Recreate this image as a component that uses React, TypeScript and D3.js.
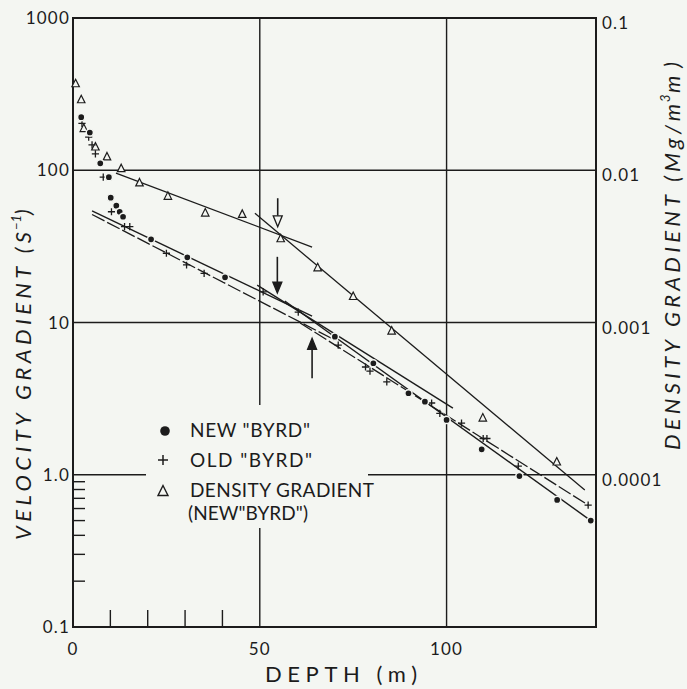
import React from 'react';
import * as d3 from 'd3';

const W = 687;
const H = 689;
const BG = '#f4f6f2';
const INK = '#1c1c1c';
const FONT = 'Lato, "DejaVu Sans", sans-serif';

// ---------- axes ----------
const xMajorTicks = [0, 50, 100];
const xMajorLabels = ['0', '50', '100'];
const xMinorTicks = [10, 20, 30, 40];
const yLeftTicks = [1000, 100, 10, 1, 0.1];
const yLeftLabels = ['1000', '100', '10', '1.0', '0.1'];
const yLeftMinor = [0.2, 0.3, 0.4, 0.5, 0.6, 0.7, 0.8, 0.9];
const yRightTicks = [0.1, 0.01, 0.001, 0.0001];
const yRightLabels = ['0.1', '0.01', '0.001', '0.0001'];
const hGrid = [100, 10, 1];
const vGrid = [50, 100];

// ---------- data: [depth (m), velocity gradient (s^-1)] ----------
const newByrd: [number, number][] = [
  [2.2, 223], [4.5, 177], [7.3, 111], [9.6, 90], [10.1, 66], [11.6, 58.5],
  [12.5, 53.4], [13.4, 49.5], [20.9, 35.2], [30.6, 26.8], [40.7, 19.8],
  [70.1, 8.07], [80.4, 5.4], [89.8, 3.43], [94.2, 3.02], [100, 2.29],
  [109.4, 1.47], [119.5, 0.98], [129.6, 0.683], [138.6, 0.5],
];

const oldByrd: [number, number][] = [
  [2.4, 203], [4.2, 165], [5.1, 147], [6.0, 128], [8.1, 90], [10.3, 53.4],
  [13.8, 42.6], [15.2, 42.6], [25.0, 28.5], [30.4, 23.9], [35.1, 21.0],
  [50.9, 15.9], [60.3, 11.7], [71.0, 7.11], [78.3, 5.1], [79.5, 4.8],
  [84.0, 4.08], [96.0, 2.96], [98.2, 2.53], [104.0, 2.18], [109.8, 1.73],
  [110.8, 1.73], [119.2, 1.14], [137.9, 0.632],
];

// [depth (m), density gradient (Mg/m^3 m)]
const densityNewByrd: [number, number][] = [
  [0.7, 0.0372], [2.2, 0.0292], [2.9, 0.0189], [6.0, 0.0143], [9.1, 0.0123],
  [12.9, 0.0103], [17.8, 0.0083], [25.4, 0.00678], [35.4, 0.00526],
  [45.3, 0.00516], [55.6, 0.00357], [65.5, 0.0023], [75.0, 0.00149],
  [85.3, 0.000883], [109.7, 0.000237], [129.5, 0.000122],
];

// fitted lines: [[d0, v0], [d1, v1]]
const newByrdLines: [number, number][][] = [
  [[5.1, 54.0], [64.0, 11.03]],
  [[49.3, 17.6], [101.7, 2.74]],
  [[56.7, 13.84], [138.6, 0.5]],
];
const oldByrdLines: [number, number][][] = [
  [[5.1, 51.2], [70.1, 7.67]],
  [[60.8, 9.93], [137.9, 0.632]],
];
const densityLines: [number, number][][] = [
  [[11.5, 0.00959], [64.0, 0.00313]],
  [[48.7, 0.00521], [137.0, 0.0000794]],
];

// arrows: depth, from value, to value (velocity scale)
const arrowDepths = [54.8, 54.7, 64.0];
const arrowFrom = [65.5, 27.0, 4.3];
const arrowTo = [42.5, 15.6, 7.87];
const arrowHollow = [true, false, false];

const legendLabels = ['NEW "BYRD"', 'OLD "BYRD"', 'DENSITY GRADIENT', '(NEW"BYRD")'];

export default function App() {
  const left = 73, right = 596, top = 18, bottom = 627;
  const x = d3.scaleLinear().domain([0, 140]).range([left, right]);
  const y = d3.scaleLog().domain([0.1, 1000]).range([bottom, top]);
  const yR = d3.scaleLog().domain([0.00001, 0.1]).range([bottom, top]);
  const line = d3.line<[number, number]>().x(d => x(d[0])).y(d => y(d[1]));
  const lineR = d3.line<[number, number]>().x(d => x(d[0])).y(d => yR(d[1]));

  const tri = (cx: number, cy: number, s: number) =>
    `M${cx},${cy - s * 0.55} L${cx + s * 0.5},${cy + s * 0.45} L${cx - s * 0.5},${cy + s * 0.45} Z`;
  const plus = (cx: number, cy: number, s: number) =>
    `M${cx - s},${cy} H${cx + s} M${cx},${cy - s} V${cy + s}`;

  return (
    <svg width={W} height={H} style={{ position: 'absolute', left: 0, top: 0, background: BG }}
      fontFamily={FONT}>
      <rect x={0} y={0} width={W} height={H} fill={BG} />

      {/* grid */}
      {hGrid.map((v, i) => (
        <line key={'h' + i} x1={left} x2={right} y1={y(v)} y2={y(v)} stroke={INK} strokeWidth={1.4} />
      ))}
      {vGrid.map((d, i) => (
        <line key={'v' + i} x1={x(d)} x2={x(d)} y1={top} y2={bottom} stroke={INK} strokeWidth={1.4} />
      ))}
      {/* minor ticks */}
      {xMinorTicks.map((d, i) => (
        <line key={'xm' + i} x1={x(d)} x2={x(d)} y1={bottom} y2={bottom - 17} stroke={INK} strokeWidth={1.4} />
      ))}
      {yLeftMinor.map((v, i) => (
        <line key={'ym' + i} x1={left} x2={left + 12} y1={y(v)} y2={y(v)} stroke={INK} strokeWidth={1.4} />
      ))}
      {/* frame */}
      <rect x={left} y={top} width={right - left} height={bottom - top} fill="none" stroke={INK} strokeWidth={2} />

      {/* legend area clears the grid */}
      <rect x={146} y={405} width={222} height={123} fill={BG} />

      {/* tick labels */}
      {yLeftTicks.map((v, i) => (
        <text key={'yl' + i} x={left - 3} y={y(v)} dy="0.36em" textAnchor="end" fontSize={17}
          letterSpacing={1.2} fill={INK}>{yLeftLabels[i]}</text>
      ))}
      {yRightTicks.map((v, i) => (
        <text key={'yr' + i} x={right + 6} y={yR(v) + 5} dy="0.36em" textAnchor="start" fontSize={17}
          letterSpacing={1.2} fill={INK}>{yRightLabels[i]}</text>
      ))}
      {xMajorTicks.map((d, i) => (
        <text key={'xl' + i} x={x(d)} y={655} textAnchor="middle" fontSize={17}
          letterSpacing={1.2} fill={INK}>{xMajorLabels[i]}</text>
      ))}

      {/* titles */}
      <text x={265} y={682} fontSize={22} textLength={152} fill={INK}>DEPTH (m)</text>
      <g transform="translate(31,540) rotate(-90)">
        <text x={0} y={0} fontSize={22} fontStyle="italic" textLength={308} fill={INK}>VELOCITY GRADIENT (S</text>
        <text x={310} y={-10} fontSize={13} fontStyle="italic" fill={INK}>−1</text>
        <text x={325} y={0} fontSize={22} fontStyle="italic" fill={INK}>)</text>
      </g>
      <g transform="translate(680,450) rotate(-90)">
        <text x={0} y={0} fontSize={22} fontStyle="italic" textLength={346} fill={INK}>DENSITY GRADIENT (Mg/m</text>
        <text x={348} y={-10} fontSize={13} fontStyle="italic" fill={INK}>3</text>
        <text x={357} y={0} fontSize={22} fontStyle="italic" textLength={31} fill={INK}> m)</text>
      </g>

      {/* fitted lines */}
      {densityLines.map((l, i) => (
        <path key={'dl' + i} d={lineR(l) || ''} fill="none" stroke={INK} strokeWidth={1.3} />
      ))}
      {newByrdLines.map((l, i) => (
        <path key={'nl' + i} d={line(l) || ''} fill="none" stroke={INK} strokeWidth={1.4} />
      ))}
      {oldByrdLines.map((l, i) => (
        <path key={'ol' + i} d={line(l) || ''} fill="none" stroke={INK} strokeWidth={1.3}
          strokeDasharray="14,3" />
      ))}

      {/* arrows */}
      {arrowDepths.map((d, i) => {
        const ax = x(d);
        const y0 = y(arrowFrom[i]);
        const y1 = y(arrowTo[i]);
        const dir = y1 > y0 ? 1 : -1;
        const hl = 11;
        const base = y1 - dir * hl;
        return (
          <g key={'a' + i}>
            <line x1={ax} x2={ax} y1={y0} y2={base} stroke={INK} strokeWidth={1.6} />
            <path d={`M${ax},${y1} L${ax + 4.5},${base} L${ax - 4.5},${base} Z`}
              fill={arrowHollow[i] ? BG : INK} stroke={INK} strokeWidth={1.3} />
          </g>
        );
      })}

      {/* markers */}
      {densityNewByrd.map((p, i) => (
        <path key={'t' + i} d={tri(x(p[0]), yR(p[1]), 7.5)} fill={BG} stroke={INK} strokeWidth={1.2} />
      ))}
      {oldByrd.map((p, i) => (
        <path key={'p' + i} d={plus(x(p[0]), y(p[1]), 3.6)} stroke={INK} strokeWidth={1.3} fill="none" />
      ))}
      {newByrd.map((p, i) => (
        <circle key={'c' + i} cx={x(p[0])} cy={y(p[1])} r={3.6} fill={INK} stroke={BG} strokeWidth={1.5} />
      ))}

      {/* legend */}
      <circle cx={165} cy={431} r={4.8} fill={INK} />
      <path d={plus(163, 460, 5)} stroke={INK} strokeWidth={1.5} />
      <path d={tri(163, 491, 10)} fill="none" stroke={INK} strokeWidth={1.4} />
      <text x={190} y={437} fontSize={19} textLength={120} fill={INK}>{legendLabels[0]}</text>
      <text x={190} y={467} fontSize={19} textLength={122} fill={INK}>{legendLabels[1]}</text>
      <text x={190} y={497} fontSize={19} textLength={184} fill={INK}>{legendLabels[2]}</text>
      <text x={188} y={520} fontSize={19} textLength={120} fill={INK}>{legendLabels[3]}</text>
    </svg>
  );
}
